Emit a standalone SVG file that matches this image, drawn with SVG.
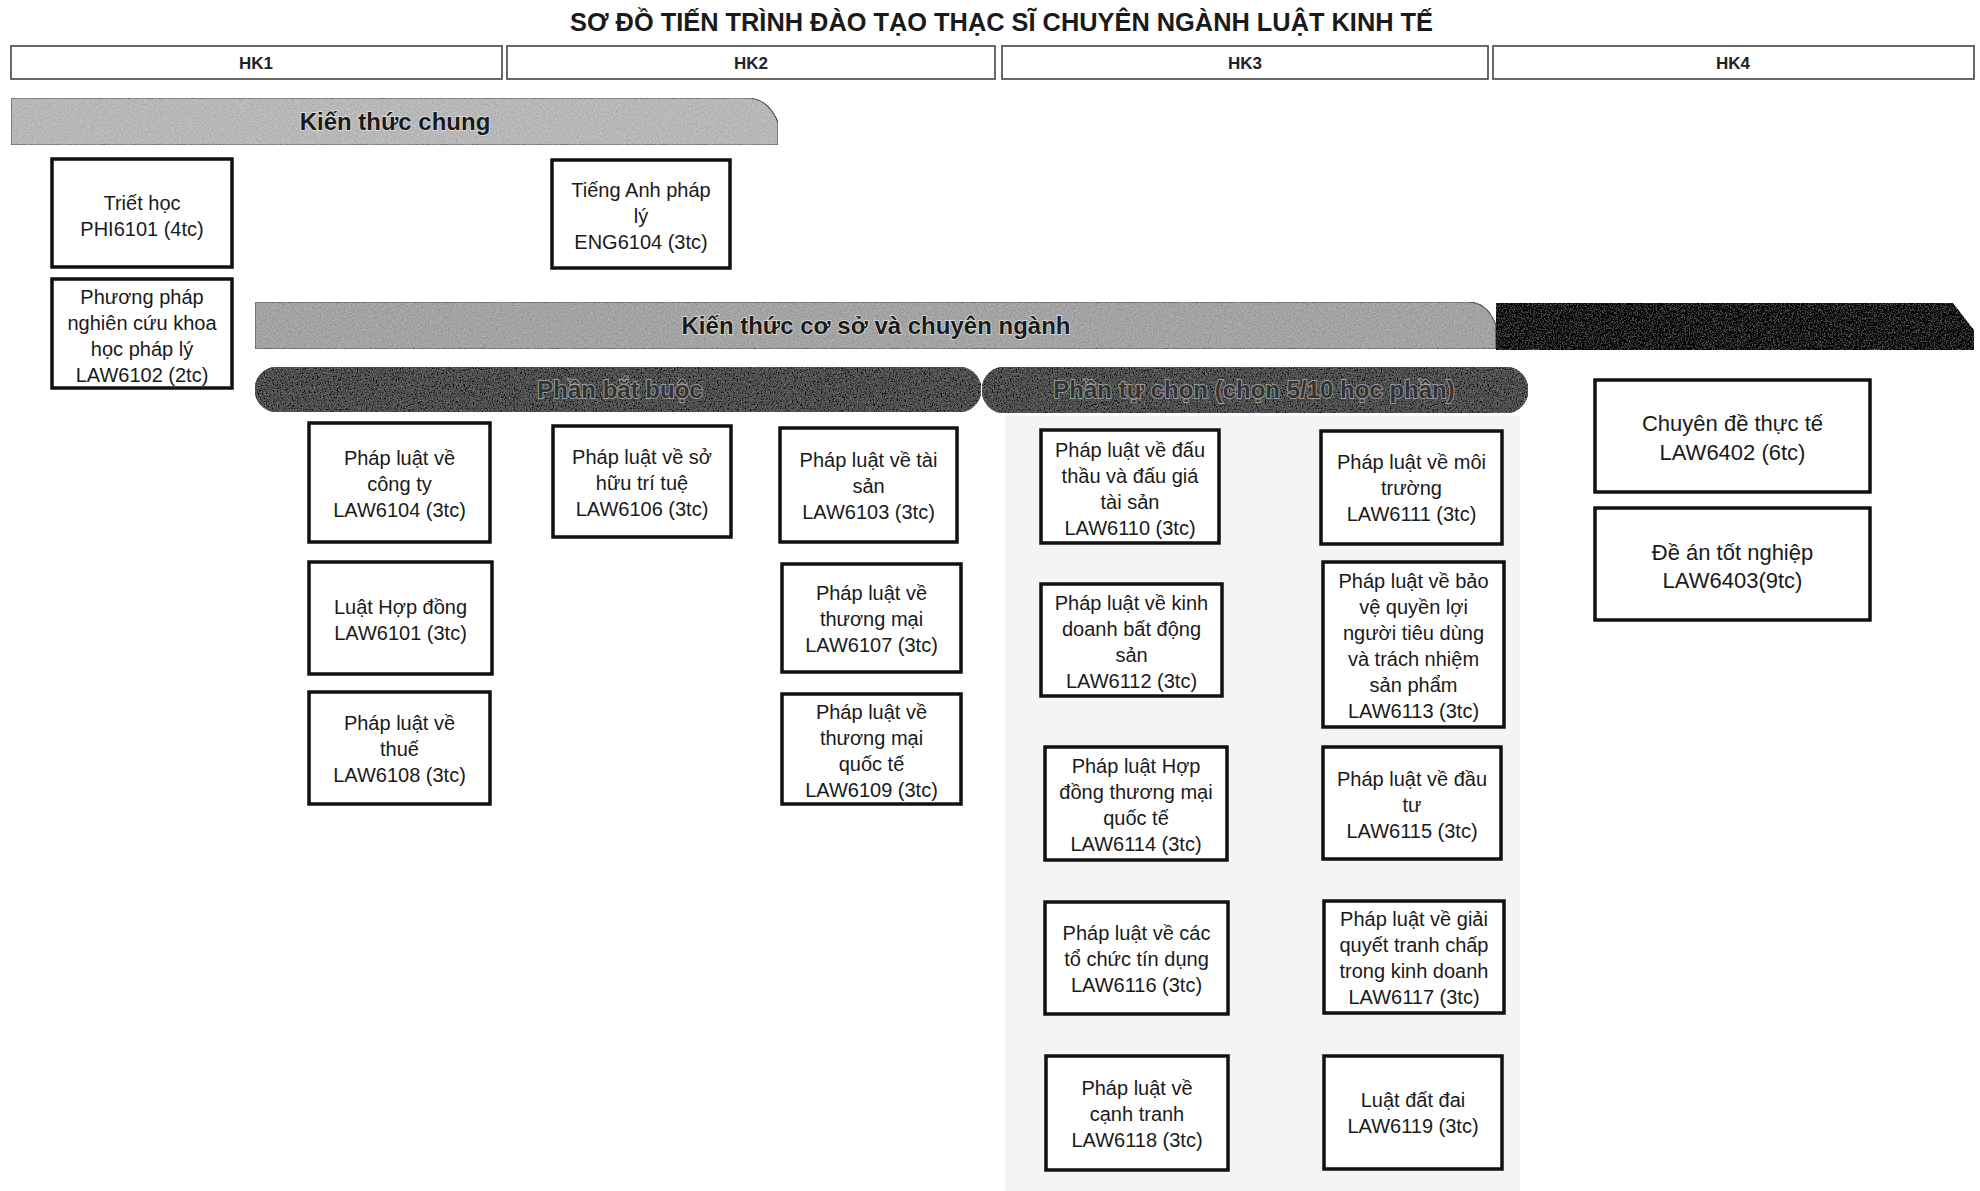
<svg xmlns="http://www.w3.org/2000/svg" width="1980" height="1191" viewBox="0 0 1980 1191">
<defs>
<style>
.hdr{fill:#fff;stroke:#444;stroke-width:1.6}
.hk{font-family:"Liberation Sans",Arial,sans-serif;font-weight:bold;font-size:17px;text-anchor:middle;fill:#222}
.box{fill:#fff;stroke:#111;stroke-width:3.5}
.t{font-family:"Liberation Sans",Arial,sans-serif;font-size:20px;text-anchor:middle;fill:#1a1a1a}
.t22{font-family:"Liberation Sans",Arial,sans-serif;font-size:22px;text-anchor:middle;fill:#1a1a1a}
.band{stroke:#555;stroke-width:1.2}
.bt{font-family:"Liberation Sans",Arial,sans-serif;font-weight:bold;font-size:24px;text-anchor:middle;fill:#1a1a1a;stroke:#e0e0e0;stroke-width:1.5;paint-order:stroke}
.pt{font-family:"Liberation Sans",Arial,sans-serif;font-weight:bold;font-size:24px;text-anchor:middle;fill:#333;stroke:#9c9c9c;stroke-width:1.8;paint-order:stroke}
</style>
<filter id="grain" x="0" y="0" width="1" height="1">
<feTurbulence type="fractalNoise" baseFrequency="0.75" numOctaves="2" seed="5" result="n"/>
<feColorMatrix in="n" type="matrix" values="0.33 0.33 0.33 0 0  0.33 0.33 0.33 0 0  0.33 0.33 0.33 0 0  0 0 0 0 1" result="g"/>
<feComposite in="SourceGraphic" in2="g" operator="arithmetic" k1="0" k2="1" k3="0.6" k4="-0.3" result="m"/>
<feComposite in="m" in2="SourceGraphic" operator="in"/>
</filter>
</defs>
<rect width="1980" height="1191" fill="#fff"/>

<text x="570" y="31" font-family="Liberation Sans, Arial, sans-serif" font-weight="bold" font-size="25" fill="#1a1a1a" textLength="863" lengthAdjust="spacingAndGlyphs">SƠ ĐỒ TIẾN TRÌNH ĐÀO TẠO THẠC SĨ CHUYÊN NGÀNH LUẬT KINH TẾ</text>

<g id="semesters">
<rect class="hdr" x="11" y="46" width="491" height="33"/>
<text class="hk" x="256" y="69">HK1</text>
<rect class="hdr" x="507" y="46" width="488" height="33"/>
<text class="hk" x="751" y="69">HK2</text>
<rect class="hdr" x="1002" y="46" width="486" height="33"/>
<text class="hk" x="1245" y="69">HK3</text>
<rect class="hdr" x="1493" y="46" width="481" height="33"/>
<text class="hk" x="1733" y="69">HK4</text>
</g>

<rect id="elective-bg" x="1005" y="416" width="515" height="775" fill="#f4f4f4"/>

<g id="band-chung">
<path class="band" d="M11,98 L747,98 C762,98 772,108 778,122 L778,145 L11,145 Z" fill="#b8b8b8" filter="url(#grain)"/>
<text class="bt" x="395" y="130">Kiến thức chung</text>
</g>

<g id="band-coso">
<path class="band" d="M255,302 L1467,302 C1482,302 1490,310 1496,325 L1496,349 L255,349 Z" fill="#a4a4a4" filter="url(#grain)"/>
<path d="M1496,303 L1953,303 L1974,330 L1974,350 L1496,350 Z" fill="#1c1c1c" filter="url(#grain)"/>
<text class="bt" x="876" y="334">Kiến thức cơ sở và chuyên ngành</text>
</g>

<g id="band-batbuoc">
<rect class="band" x="255" y="367" width="726" height="45" rx="22.5" fill="#505050" filter="url(#grain)"/>
<text class="pt" x="620" y="398">Phần bắt buộc</text>
</g>

<g id="band-tuchon">
<rect class="band" x="982" y="367" width="546" height="46" rx="23" fill="#505050" filter="url(#grain)"/>
<text class="pt" x="1254" y="398">Phần tự chọn (chọn 5/10 học phần)</text>
</g>

<g id="connectors"></g>

<g id="PHI6101"><rect class="box" x="52" y="159" width="180" height="108"/>
<text class="t" x="142" y="210">Triết học</text><text class="t" x="142" y="236">PHI6101 (4tc)</text></g>

<g id="LAW6102"><rect class="box" x="52" y="279" width="180" height="109"/>
<text class="t" x="142" y="304">Phương pháp</text><text class="t" x="142" y="330">nghiên cứu khoa</text><text class="t" x="142" y="356">học pháp lý</text><text class="t" x="142" y="382">LAW6102 (2tc)</text></g>

<g id="ENG6104"><rect class="box" x="552" y="160" width="178" height="108"/>
<text class="t" x="641" y="197">Tiếng Anh pháp</text><text class="t" x="641" y="223">lý</text><text class="t" x="641" y="249">ENG6104 (3tc)</text></g>

<g id="LAW6104"><rect class="box" x="309" y="423" width="181" height="119"/>
<text class="t" x="399.5" y="465">Pháp luật về</text><text class="t" x="399.5" y="491">công ty</text><text class="t" x="399.5" y="517">LAW6104 (3tc)</text></g>

<g id="LAW6106"><rect class="box" x="553" y="426" width="178" height="111"/>
<text class="t" x="642" y="464">Pháp luật về sở</text><text class="t" x="642" y="490">hữu trí tuệ</text><text class="t" x="642" y="516">LAW6106 (3tc)</text></g>

<g id="LAW6103"><rect class="box" x="780" y="428" width="177" height="114"/>
<text class="t" x="868.5" y="467">Pháp luật về tài</text><text class="t" x="868.5" y="493">sản</text><text class="t" x="868.5" y="519">LAW6103 (3tc)</text></g>

<g id="LAW6101"><rect class="box" x="309" y="562" width="183" height="112"/>
<text class="t" x="400.5" y="614">Luật Hợp đồng</text><text class="t" x="400.5" y="640">LAW6101 (3tc)</text></g>

<g id="LAW6107"><rect class="box" x="782" y="564" width="179" height="108"/>
<text class="t" x="871.5" y="600">Pháp luật về</text><text class="t" x="871.5" y="626">thương mại</text><text class="t" x="871.5" y="652">LAW6107 (3tc)</text></g>

<g id="LAW6108"><rect class="box" x="309" y="692" width="181" height="112"/>
<text class="t" x="399.5" y="730">Pháp luật về</text><text class="t" x="399.5" y="756">thuế</text><text class="t" x="399.5" y="782">LAW6108 (3tc)</text></g>

<g id="LAW6109"><rect class="box" x="782" y="694" width="179" height="110"/>
<text class="t" x="871.5" y="719">Pháp luật về</text><text class="t" x="871.5" y="745">thương mại</text><text class="t" x="871.5" y="771">quốc tế</text><text class="t" x="871.5" y="797">LAW6109 (3tc)</text></g>

<g id="LAW6110"><rect class="box" x="1041" y="430" width="178" height="113"/>
<text class="t" x="1130" y="457">Pháp luật về đấu</text><text class="t" x="1130" y="483">thầu và đấu giá</text><text class="t" x="1130" y="509">tài sản</text><text class="t" x="1130" y="535">LAW6110 (3tc)</text></g>

<g id="LAW6111"><rect class="box" x="1321" y="431" width="181" height="113"/>
<text class="t" x="1411.5" y="469">Pháp luật về môi</text><text class="t" x="1411.5" y="495">trường</text><text class="t" x="1411.5" y="521">LAW6111 (3tc)</text></g>

<g id="LAW6112"><rect class="box" x="1041" y="584" width="181" height="112"/>
<text class="t" x="1131.5" y="610">Pháp luật về kinh</text><text class="t" x="1131.5" y="636">doanh bất động</text><text class="t" x="1131.5" y="662">sản</text><text class="t" x="1131.5" y="688">LAW6112 (3tc)</text></g>

<g id="LAW6113"><rect class="box" x="1323" y="562" width="181" height="165"/>
<text class="t" x="1413.5" y="588">Pháp luật về bảo</text><text class="t" x="1413.5" y="614">vệ quyền lợi</text><text class="t" x="1413.5" y="640">người tiêu dùng</text><text class="t" x="1413.5" y="666">và trách nhiệm</text><text class="t" x="1413.5" y="692">sản phẩm</text><text class="t" x="1413.5" y="718">LAW6113 (3tc)</text></g>

<g id="LAW6114"><rect class="box" x="1045" y="747" width="182" height="113"/>
<text class="t" x="1136" y="773">Pháp luật Hợp</text><text class="t" x="1136" y="799">đồng thương mại</text><text class="t" x="1136" y="825">quốc tế</text><text class="t" x="1136" y="851">LAW6114 (3tc)</text></g>

<g id="LAW6115"><rect class="box" x="1323" y="747" width="178" height="112"/>
<text class="t" x="1412" y="786">Pháp luật về đầu</text><text class="t" x="1412" y="812">tư</text><text class="t" x="1412" y="838">LAW6115 (3tc)</text></g>

<g id="LAW6116"><rect class="box" x="1045" y="902" width="183" height="112"/>
<text class="t" x="1136.5" y="940">Pháp luật về các</text><text class="t" x="1136.5" y="966">tổ chức tín dụng</text><text class="t" x="1136.5" y="992">LAW6116 (3tc)</text></g>

<g id="LAW6117"><rect class="box" x="1324" y="901" width="180" height="112"/>
<text class="t" x="1414" y="926">Pháp luật về giải</text><text class="t" x="1414" y="952">quyết tranh chấp</text><text class="t" x="1414" y="978">trong kinh doanh</text><text class="t" x="1414" y="1004">LAW6117 (3tc)</text></g>

<g id="LAW6118"><rect class="box" x="1046" y="1056" width="182" height="114"/>
<text class="t" x="1137" y="1095">Pháp luật về</text><text class="t" x="1137" y="1121">cạnh tranh</text><text class="t" x="1137" y="1147">LAW6118 (3tc)</text></g>

<g id="LAW6119"><rect class="box" x="1324" y="1056" width="178" height="113"/>
<text class="t" x="1413" y="1107">Luật đất đai</text><text class="t" x="1413" y="1133">LAW6119 (3tc)</text></g>

<g id="LAW6402"><rect class="box" x="1595" y="380" width="275" height="112"/>
<text class="t22" x="1732.5" y="431">Chuyên đề thực tế</text><text class="t22" x="1732.5" y="460">LAW6402 (6tc)</text></g>

<g id="LAW6403"><rect class="box" x="1595" y="508" width="275" height="112"/>
<text class="t22" x="1732.5" y="560">Đề án tốt nghiệp</text><text class="t22" x="1732.5" y="588">LAW6403(9tc)</text></g>
</svg>
